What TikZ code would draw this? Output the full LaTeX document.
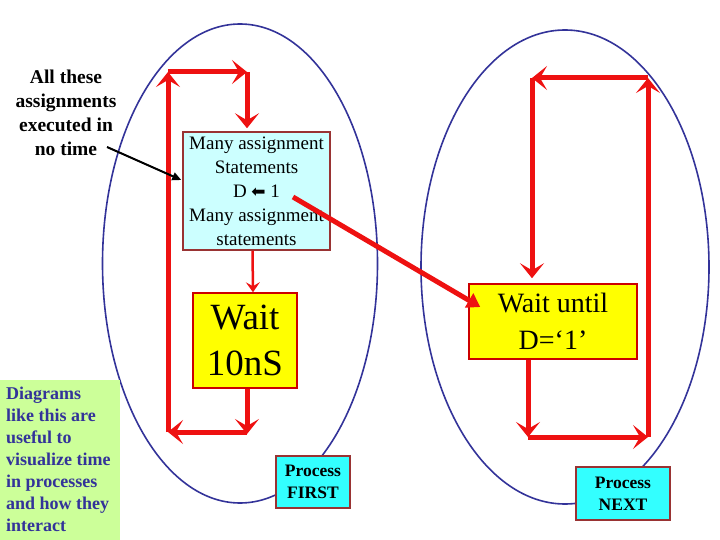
\documentclass[tikz,border=0pt]{standalone}
\usepackage{fontspec}
\setmainfont{Liberation Serif}
\newfontfamily\okFont{DejaVu Sans}
\usepackage{tikz}
\usetikzlibrary{arrows.meta,calc}
\definecolor{elipsMavi}{HTML}{333399}
\definecolor{okKirmizi}{HTML}{EE1111}
\definecolor{kenarKahve}{HTML}{993333}
\definecolor{acikCamgobegi}{HTML}{CCFFFF}
\definecolor{camgobegi}{HTML}{33FFFF}
\definecolor{sari}{HTML}{FFFF00}
\definecolor{notYesil}{HTML}{CCFF99}
\definecolor{notMavi}{HTML}{333399}
\tikzset{
  kutu/.style={draw=kenarKahve,line width=1.5pt,inner sep=0pt,align=center},
  kirmiziOk/.style={draw=okKirmizi,line width=5pt,
    -{Stealth[length=15pt,width=24pt,inset=7pt]}},
  inceOk/.style={draw=okKirmizi,line width=2.5pt,
    -{Stealth[length=10pt,width=14pt,inset=4pt]}}
}
\begin{document}
\begin{tikzpicture}[x=1pt,y=-1pt]
\useasboundingbox (0,0) rectangle (720,540);
% iki surec elipsi
\draw[elipsMavi,line width=1.6pt] (240,263.5) ellipse [x radius=137.5,y radius=239.5];
\draw[elipsMavi,line width=1.6pt] (565,267) ellipse [x radius=144,y radius=237];
% kutular
\node[kutu,fill=acikCamgobegi,minimum width=147,minimum height=118,
  font=\fontsize{19}{24}\selectfont] (atama) at (256.5,191)
  {Many assignment\\Statements\\D {\okFont\fontsize{17}{24}\selectfont ⬅} 1\\Many assignment\\statements};
\node[kutu,draw=red!80!black,fill=sari,minimum width=104,minimum height=95,
  font=\fontsize{37}{46}\selectfont] (bekle) at (245,340.5) {Wait\\10nS};
\node[kutu,fill=camgobegi,minimum width=74,minimum height=52,
  font=\bfseries\fontsize{17.5}{22}\selectfont] (birinci) at (313,482) {Process\\FIRST};
\node[kutu,draw=red!80!black,fill=sari,minimum width=168,minimum height=75,
  font=\fontsize{28}{37}\selectfont] (bekleD) at (553,321.5) {Wait until\\D=‘1’};
\node[kutu,fill=camgobegi,minimum width=94,minimum height=53,
  font=\bfseries\fontsize{17.5}{22}\selectfont] (sonraki) at (623,493.5) {Process\\NEXT};
% aciklamalar
\node[font=\bfseries\fontsize{19.5}{24}\selectfont,align=center] (zamansiz) at (66,113)
  {All these\\assignments\\executed in\\no time};
\node[fill=notYesil,anchor=north west,minimum width=120,minimum height=160,
  inner sep=0pt] (notKutu) at (0,380) {};
\node[text=notMavi,anchor=north west,inner sep=0pt,align=left,
  font=\bfseries\fontsize{18}{22}\selectfont] (notYazi) at (6,387)
  {Diagrams\\like this are\\useful to\\visualize time\\in processes\\and how they\\interact};
% birinci surec dongusu
\coordinate (a1) at (247,434);
\coordinate (a2) at (168,432);
\coordinate (a3) at (168,72);
\coordinate (a4) at (247,72);
\draw[kirmiziOk] ([xshift=2pt]bekle.south) -- (a1);
\draw[kirmiziOk] (a1 |- a2) -- (a2);
\draw[kirmiziOk] (a2) -- (a3);
\draw[kirmiziOk] (a3) -- (a4);
\draw[kirmiziOk,shorten >=3pt] (a4) -- (a4 |- atama.north);
\draw[inceOk] ([xshift=-4pt]atama.south) -- ([xshift=8pt]bekle.north);
% ikinci surec dongusu
\coordinate (b1) at (528,437);
\coordinate (b2) at (648,437);
\coordinate (b3) at (648,78);
\coordinate (b4) at (532,78);
\draw[kirmiziOk] ([xshift=-25pt]bekleD.south) -- (b1);
\draw[kirmiziOk] (b1) -- (b2);
\draw[kirmiziOk] (b2) -- (b3);
\draw[kirmiziOk] (b3) -- (b4);
\draw[kirmiziOk,shorten >=5pt] (b4) -- (b4 |- bekleD.north);
% D sinyali
\coordinate (dKaynak) at (293,197);
\draw[kirmiziOk,-{Triangle[length=13pt,width=16pt]}] (dKaynak) -- ([xshift=12pt,yshift=14.5pt]bekleD.west);
\coordinate (yokZaman) at (107,147);
\draw[line width=2pt,-{Triangle[length=9pt,width=8pt]}] (yokZaman) -- ([xshift=-1pt,yshift=11pt]atama.west);
\end{tikzpicture}
\end{document}
